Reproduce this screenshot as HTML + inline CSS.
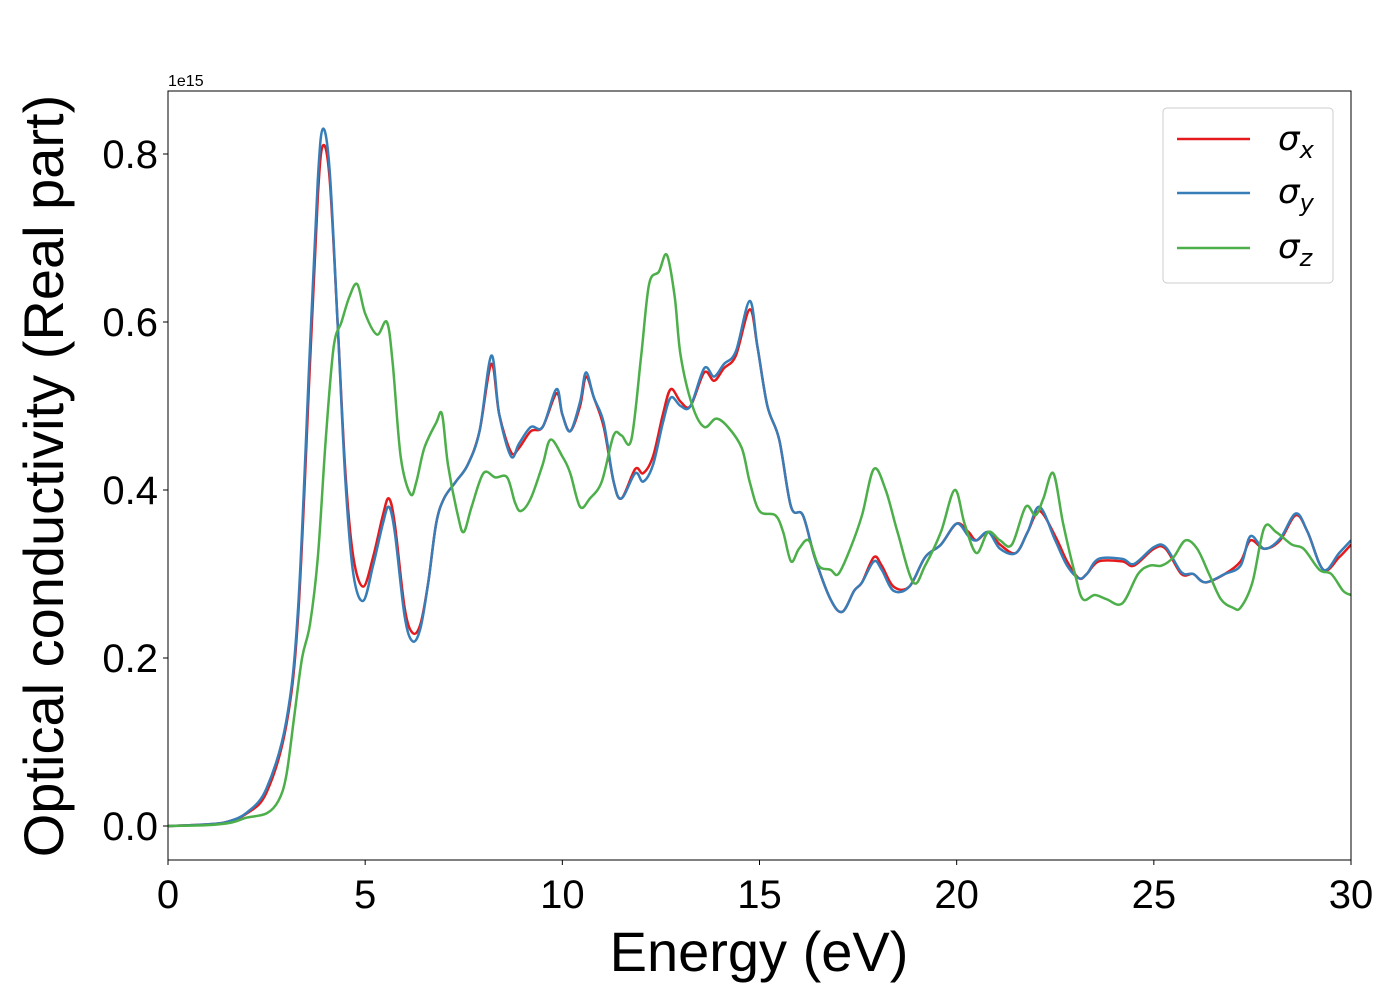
<!DOCTYPE html>
<html><head><meta charset="utf-8"><style>
body{margin:0;background:#fff}
svg{font-family:"Liberation Sans","DejaVu Sans",sans-serif}
</style></head><body>
<svg id="chart" width="1400" height="1000" xmlns="http://www.w3.org/2000/svg">
<g id="grid"></g>
<g id="lines"></g>
<g id="axes"></g>
</svg>
<script>
const xE = [0,1,1.5,2,2.5,3,3.3,3.6,3.8,3.93,4.1,4.3,4.5,4.7,4.95,5.2,5.45,5.6,5.75,6.0,6.2,6.4,6.6,6.8,7.0,7.3,7.6,7.9,8.2,8.4,8.7,8.9,9.2,9.5,9.85,10.0,10.2,10.45,10.6,10.8,11.05,11.3,11.5,11.85,12.05,12.3,12.55,12.75,13.0,13.25,13.6,13.85,14.1,14.4,14.75,14.95,15.2,15.5,15.8,16.1,16.4,16.8,17.1,17.4,17.6,17.9,18.1,18.4,18.8,19.2,19.6,20.0,20.3,20.5,20.8,21.1,21.5,21.8,22.1,22.5,22.8,23.1,23.3,23.6,24.2,24.5,25.0,25.3,25.7,26.0,26.3,26.8,27.2,27.45,27.8,28.2,28.6,28.9,29.3,29.7,30];
const sigmaX = [0,0.002,0.005,0.015,0.04,0.12,0.25,0.55,0.75,0.81,0.77,0.6,0.42,0.32,0.285,0.32,0.37,0.39,0.36,0.26,0.23,0.24,0.29,0.36,0.39,0.41,0.43,0.47,0.55,0.49,0.445,0.45,0.47,0.475,0.515,0.49,0.47,0.5,0.535,0.51,0.475,0.41,0.39,0.425,0.42,0.44,0.49,0.52,0.505,0.5,0.54,0.53,0.545,0.56,0.615,0.57,0.5,0.46,0.38,0.37,0.32,0.27,0.255,0.28,0.29,0.32,0.31,0.285,0.285,0.32,0.335,0.36,0.35,0.34,0.35,0.335,0.325,0.35,0.375,0.345,0.315,0.295,0.3,0.315,0.315,0.31,0.33,0.33,0.3,0.3,0.29,0.3,0.315,0.34,0.33,0.34,0.37,0.35,0.305,0.32,0.335];
const sigmaY = [0,0.002,0.005,0.016,0.045,0.125,0.26,0.57,0.77,0.83,0.78,0.6,0.41,0.3,0.268,0.31,0.36,0.38,0.35,0.25,0.22,0.235,0.29,0.36,0.39,0.41,0.43,0.47,0.56,0.49,0.44,0.455,0.475,0.475,0.52,0.49,0.47,0.505,0.54,0.51,0.48,0.41,0.39,0.42,0.41,0.43,0.48,0.51,0.5,0.5,0.545,0.535,0.55,0.565,0.625,0.57,0.5,0.46,0.38,0.37,0.32,0.27,0.255,0.28,0.29,0.315,0.305,0.28,0.285,0.32,0.335,0.36,0.345,0.34,0.35,0.33,0.325,0.35,0.38,0.34,0.31,0.295,0.3,0.318,0.318,0.312,0.332,0.332,0.302,0.3,0.29,0.3,0.31,0.345,0.33,0.342,0.372,0.35,0.305,0.325,0.34];
const xZ = [0,1,1.6,2,2.5,2.8,3.0,3.2,3.4,3.6,3.8,4.0,4.2,4.4,4.6,4.8,5.0,5.3,5.55,5.7,5.9,6.15,6.3,6.5,6.8,6.95,7.1,7.35,7.5,7.7,8.0,8.3,8.6,8.8,8.95,9.2,9.5,9.7,10.0,10.2,10.45,10.7,11.0,11.3,11.5,11.75,12.0,12.2,12.45,12.65,12.85,13.0,13.3,13.6,13.9,14.2,14.55,14.75,15.0,15.4,15.6,15.8,16.0,16.25,16.5,16.8,17.0,17.3,17.6,17.9,18.2,18.5,18.9,19.2,19.6,19.95,20.2,20.5,20.8,21.1,21.4,21.75,22.0,22.2,22.45,22.7,23.0,23.2,23.5,23.8,24.2,24.6,24.9,25.2,25.5,25.8,26.1,26.4,26.7,27.0,27.2,27.5,27.8,28.1,28.5,28.8,29.2,29.5,29.8,30];
const sigmaZ = [0,0.001,0.004,0.01,0.015,0.03,0.06,0.13,0.2,0.24,0.32,0.46,0.57,0.6,0.63,0.645,0.61,0.585,0.6,0.55,0.44,0.395,0.41,0.45,0.48,0.49,0.43,0.37,0.35,0.38,0.42,0.415,0.415,0.385,0.375,0.39,0.43,0.46,0.44,0.42,0.38,0.39,0.41,0.465,0.465,0.46,0.56,0.645,0.66,0.68,0.63,0.56,0.5,0.475,0.485,0.475,0.45,0.41,0.375,0.37,0.35,0.315,0.33,0.34,0.31,0.305,0.3,0.33,0.37,0.425,0.4,0.35,0.29,0.31,0.35,0.4,0.36,0.325,0.35,0.34,0.335,0.38,0.37,0.39,0.42,0.36,0.3,0.27,0.275,0.27,0.265,0.3,0.31,0.31,0.32,0.34,0.33,0.3,0.27,0.26,0.26,0.29,0.355,0.35,0.335,0.33,0.305,0.3,0.28,0.275];
const xTicks = [0,5,10,15,20,25,30];
const yTicks = [0.0,0.2,0.4,0.6,0.8];

const L=168,R=1351,T=91,B=860;
const sx=v=>L+(v-0)/30*(R-L);
const sy=v=>826-v*840;
const NS="http://www.w3.org/2000/svg";
function mk(tag,parent){const e=document.createElementNS(NS,tag);parent.appendChild(e);return e;}
function pathFor(xs,ys){
  const p=xs.map((x,i)=>[sx(x),sy(ys[i])]);
  let d=`M${p[0][0]},${p[0][1]}`;
  for(let i=0;i<p.length-1;i++){
    const p0=p[Math.max(0,i-1)],p1=p[i],p2=p[i+1],p3=p[Math.min(p.length-1,i+2)];
    const c1=[p1[0]+(p2[0]-p0[0])/6,p1[1]+(p2[1]-p0[1])/6];
    const c2=[p2[0]-(p3[0]-p1[0])/6,p2[1]-(p3[1]-p1[1])/6];
    d+=`C${c1[0]},${c1[1]} ${c2[0]},${c2[1]} ${p2[0]},${p2[1]}`;
  }
  return d;
}
const lines=document.getElementById('lines');
const clip=mk('clipPath',document.getElementById('chart'));clip.id='pc';
const cr=mk('rect',clip);cr.setAttribute('x',L);cr.setAttribute('y',T);cr.setAttribute('width',R-L);cr.setAttribute('height',B-T);
lines.setAttribute('clip-path','url(#pc)');
const series=[[xE,sigmaX,'#e41a1c','sigma-x-line'],[xE,sigmaY,'#377eb8','sigma-y-line'],[xZ,sigmaZ,'#4daf4a','sigma-z-line']];
series.forEach(s=>{
  const pth=mk('path',lines);
  pth.setAttribute('d',pathFor(s[0],s[1]));
  pth.setAttribute('fill','none');pth.setAttribute('stroke',s[2]);pth.setAttribute('stroke-width','2.5');
  
  
});
const axes=document.getElementById('axes');
const frame=mk('rect',axes);
frame.setAttribute('x',L);frame.setAttribute('y',T);frame.setAttribute('width',R-L);frame.setAttribute('height',B-T);
frame.setAttribute('fill','none');frame.setAttribute('stroke','#000');frame.setAttribute('stroke-width','1');


xTicks.forEach(t=>{
  const ln=mk('line',axes);ln.setAttribute('x1',sx(t));ln.setAttribute('x2',sx(t));ln.setAttribute('y1',B);ln.setAttribute('y2',B+5);ln.setAttribute('stroke','#000');
  
  
  const tx=mk('text',axes);tx.textContent=t;tx.setAttribute('x',sx(t));tx.setAttribute('y',908);tx.setAttribute('text-anchor','middle');tx.setAttribute('font-size','40');
  
  
});
yTicks.forEach(t=>{
  const ln=mk('line',axes);ln.setAttribute('x1',L-5);ln.setAttribute('x2',L);ln.setAttribute('y1',sy(t));ln.setAttribute('y2',sy(t));ln.setAttribute('stroke','#000');
  
  
  const tx=mk('text',axes);tx.textContent=t.toFixed(1);tx.setAttribute('x',158);tx.setAttribute('y',sy(t)+14);tx.setAttribute('text-anchor','end');tx.setAttribute('font-size','40');
  
  
});
</script>
<svg width="1400" height="1000" style="position:absolute;left:0;top:0" font-family="Liberation Sans, sans-serif">
<text x="168" y="86" font-size="16">1e15</text>
<text x="759" y="971" font-size="56" text-anchor="middle">Energy (eV)</text>
<text transform="translate(63,476) rotate(-90)" font-size="56" text-anchor="middle">Optical conductivity (Real part)</text>
<g>
<rect x="1163" y="108" width="170" height="175" rx="4" fill="#fff" stroke="#ccc"/>
<line x1="1177" y1="139" x2="1250" y2="139" stroke="#e41a1c" stroke-width="2.5"/>
<line x1="1177" y1="193" x2="1250" y2="193" stroke="#377eb8" stroke-width="2.5"/>
<line x1="1177" y1="248" x2="1250" y2="248" stroke="#4daf4a" stroke-width="2.5"/>
<text x="1278" y="150" font-size="34" font-family="DejaVu Sans, sans-serif" font-style="italic">σ<tspan font-size="24" dy="8">x</tspan></text>
<text x="1278" y="203" font-size="34" font-family="DejaVu Sans, sans-serif" font-style="italic">σ<tspan font-size="24" dy="8">y</tspan></text>
<text x="1278" y="258" font-size="34" font-family="DejaVu Sans, sans-serif" font-style="italic">σ<tspan font-size="24" dy="8">z</tspan></text>
</g>
</svg>
</body></html>
